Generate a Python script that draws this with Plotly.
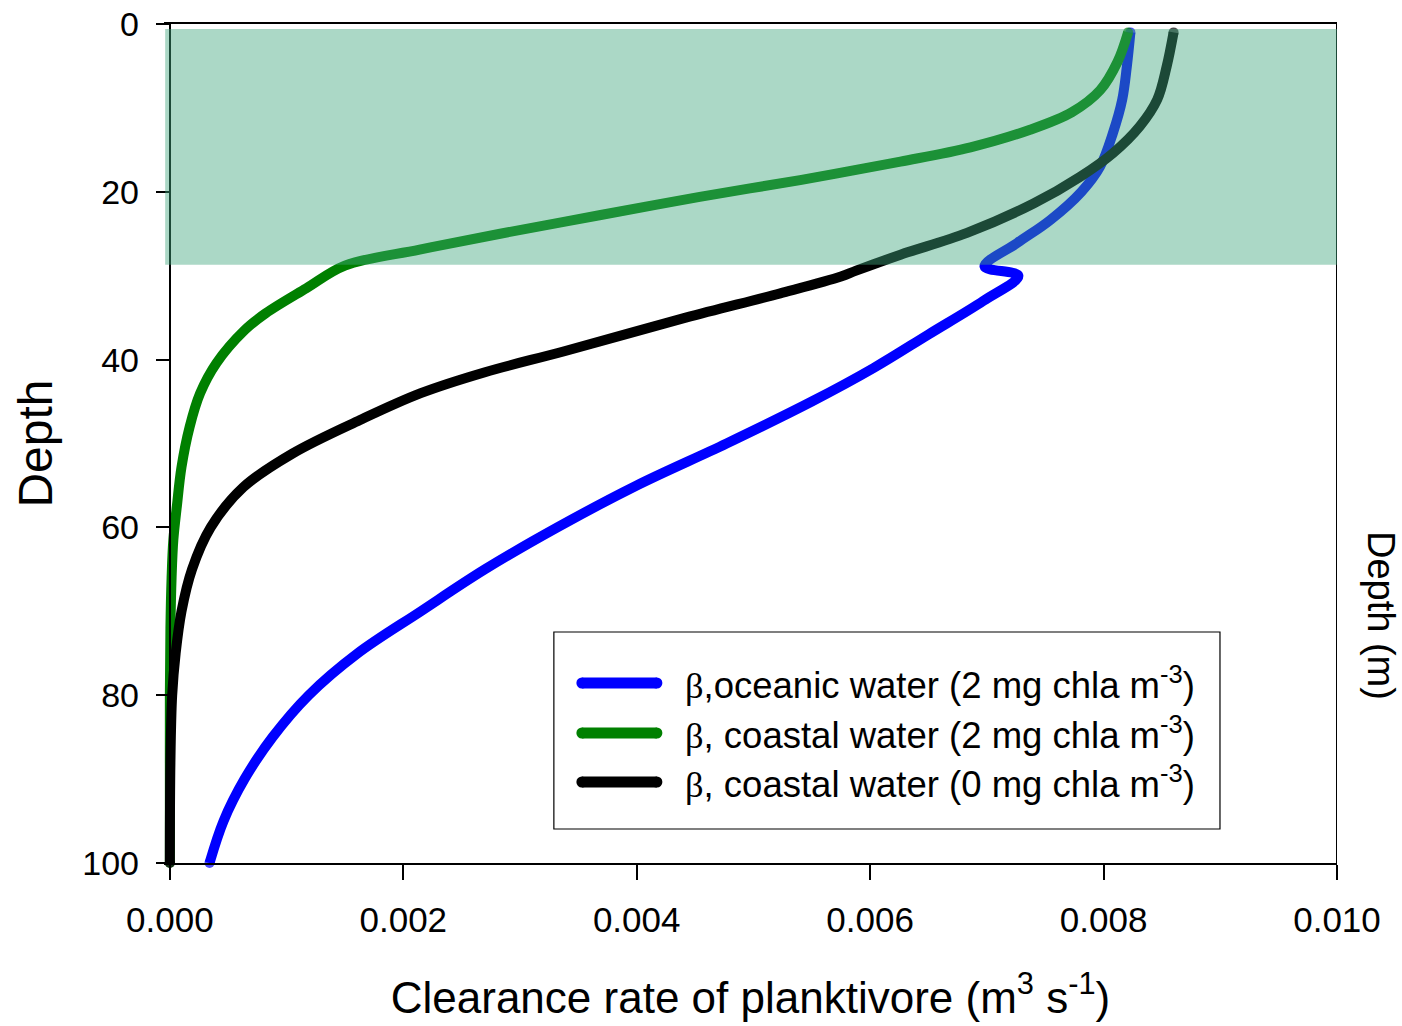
import plotly.graph_objects as go

# Clearance rate profiles (m3 s-1) against depth (m)
depth_oceanic = [1, 5, 9, 13, 17, 20, 23.4, 26.1, 28.9, 30, 33, 37, 41, 45, 50, 55, 60,
                 65, 70, 75, 80, 85, 90, 95, 100]
rate_oceanic = [0.00823, 0.00820, 0.00816, 0.00808, 0.00797, 0.00781, 0.00754, 0.00726,
                0.00698, 0.00727, 0.00697, 0.00650, 0.00603, 0.00550, 0.00477, 0.00400,
                0.00332, 0.00270, 0.00215, 0.00161, 0.00119, 0.00088, 0.00064, 0.00046,
                0.00034]

depth_coastal2 = [1, 4.5, 7.9, 10.5, 12.6, 14.7, 16.4, 18.6, 20.6, 22.8, 25, 26.9, 28.8,
                  31.5, 34.5, 36.5, 40.4, 44, 48, 52.8, 57.5, 61.5, 66, 72, 80, 90, 100]
rate_coastal2 = [0.00821, 0.00812, 0.00797, 0.00773, 0.00737, 0.00686, 0.00626, 0.00540,
                 0.00454, 0.00368, 0.00283, 0.00214, 0.00150, 0.00117, 0.00082, 0.00064,
                 0.00040, 0.00026, 0.00017, 0.00010, 0.00006, 0.00003, 0.000015, 0.000005,
                 0.0, 0.0, 0.0]

depth_coastal0 = [1, 5.1, 9, 12.2, 15.4, 18.2, 21.4, 24.9, 27.5, 29.4, 30.1, 32.1, 35, 39,
                  41.5, 44, 47.2, 51.2, 55.2, 60, 65, 70, 75, 80, 88, 100]
rate_coastal0 = [0.00860, 0.00854, 0.00846, 0.00831, 0.00808, 0.00780, 0.00740, 0.00683,
                 0.00626, 0.00588, 0.00575, 0.00523, 0.00442, 0.00338, 0.00270, 0.00215,
                 0.00163, 0.00105, 0.00063, 0.00035, 0.00019, 0.00010, 0.00005, 0.00002,
                 0.000005, 0.0]

series_names = [
    "<span style='font-family:Liberation Serif'>β</span>,oceanic water (2 mg chla m<sup>-3</sup>)",
    "<span style='font-family:Liberation Serif'>β</span>, coastal water (2 mg chla m<sup>-3</sup>)",
    "<span style='font-family:Liberation Serif'>β</span>, coastal water (0 mg chla m<sup>-3</sup>)",
]
series_colors = ["#0000FF", "#008000", "#000000"]
series_x = [rate_oceanic, rate_coastal2, rate_coastal0]
series_y = [depth_oceanic, depth_coastal2, depth_coastal0]

# Euphotic (mixed) layer band
band_top, band_bottom = 0.6, 28.7

x_ticks = [0.000, 0.002, 0.004, 0.006, 0.008, 0.010]
y_ticks = [0, 20, 40, 60, 80, 100]
x_min, x_max = -0.00005, 0.010   # small pad left of zero so curves at zero are not clipped

LINE_W = 10
FONT = "Liberation Sans, Arial, sans-serif"

# plot-area geometry (px)
PLOT_L, PLOT_R, PLOT_T, PLOT_B = 164.2, 1337, 24, 863
W, H = 1402, 1026
plot_w = PLOT_R - PLOT_L
plot_h = PLOT_B - PLOT_T

fig = go.Figure()
for name, color, xs, ys in zip(series_names, series_colors, series_x, series_y):
    n = len(xs)
    caps = [LINE_W] + [0] * (n - 2) + [LINE_W]
    fig.add_trace(go.Scatter(
        x=xs, y=ys, name=name, mode="lines+markers",
        line=dict(color=color, width=LINE_W, shape="spline", smoothing=1.0),
        marker=dict(color=color, size=caps, line=dict(width=0)),
        cliponaxis=False, showlegend=False,
    ))

# right frame line at the axis maximum
fig.add_shape(type="line", xref="x", yref="paper", x0=x_max, x1=x_max, y0=0, y1=1,
              line=dict(color="black", width=2), layer="below")

# translucent band drawn over the curves
fig.add_shape(type="rect", xref="x", yref="y",
              x0=-0.00004, x1=x_max, y0=band_top, y1=band_bottom,
              fillcolor="rgb(64,167,126)", opacity=0.44, line=dict(width=0),
              layer="above")


def px_x(p):
    return (p - PLOT_L) / plot_w


def px_y(p):
    return (PLOT_B - p) / plot_h


# legend box
fig.add_shape(type="rect", xref="paper", yref="paper",
              x0=px_x(554), x1=px_x(1220), y0=px_y(829), y1=px_y(632),
              line=dict(color="black", width=1.2), fillcolor="white", layer="above")
row_px = [683, 733, 782]
sx0, sx1 = px_x(582), px_x(657)
rx, ry = 5.5 / plot_w, 5.5 / plot_h
for name, color, rp in zip(series_names, series_colors, row_px):
    yy = px_y(rp)
    fig.add_shape(type="line", xref="paper", yref="paper", x0=sx0, x1=sx1, y0=yy, y1=yy,
                  line=dict(color=color, width=11), layer="above")
    for cx in (sx0, sx1):
        fig.add_shape(type="circle", xref="paper", yref="paper",
                      x0=cx - rx, x1=cx + rx, y0=yy - ry, y1=yy + ry,
                      fillcolor=color, line=dict(width=0), layer="above")
    fig.add_annotation(x=px_x(683), y=yy, xref="paper", yref="paper", text=name,
                       showarrow=False, xanchor="left", yanchor="middle",
                       font=dict(family=FONT, size=36.5, color="black"))

fig.add_annotation(x=px_x(1381), y=px_y(615), xref="paper", yref="paper",
                   text="Depth (m)", textangle=90, showarrow=False,
                   xanchor="center", yanchor="middle",
                   font=dict(family=FONT, size=38, color="black"))

axis_common = dict(showgrid=False, zeroline=False, showline=True, linecolor="black",
                   linewidth=2, ticks="outside", tickwidth=2, tickcolor="black")

fig.update_xaxes(range=[x_min, x_max], tickvals=x_ticks, tickformat=".3f", ticklen=15,
                 ticklabelstandoff=10, mirror=True,
                 tickfont=dict(family=FONT, size=35, color="black"),
                 title=dict(text="Clearance rate of planktivore (m<sup>3</sup> s<sup>-1</sup>)",
                            font=dict(family=FONT, size=44, color="black"), standoff=44),
                 **axis_common)
fig.update_yaxes(range=[100, 0], tickvals=y_ticks, ticklen=13, ticklabelstandoff=10,
                 anchor="free", position=px_x(170),
                 tickfont=dict(family=FONT, size=34, color="black"),
                 title=dict(text="Depth", font=dict(family=FONT, size=48, color="black"),
                            standoff=13),
                 **axis_common)

fig.update_layout(width=W, height=H,
                  margin=dict(l=PLOT_L, r=W - PLOT_R, t=PLOT_T, b=H - PLOT_B, autoexpand=False),
                  plot_bgcolor="white", paper_bgcolor="white", showlegend=False,
                  font=dict(family=FONT, color="black"))

fig.write_html("out.html")
